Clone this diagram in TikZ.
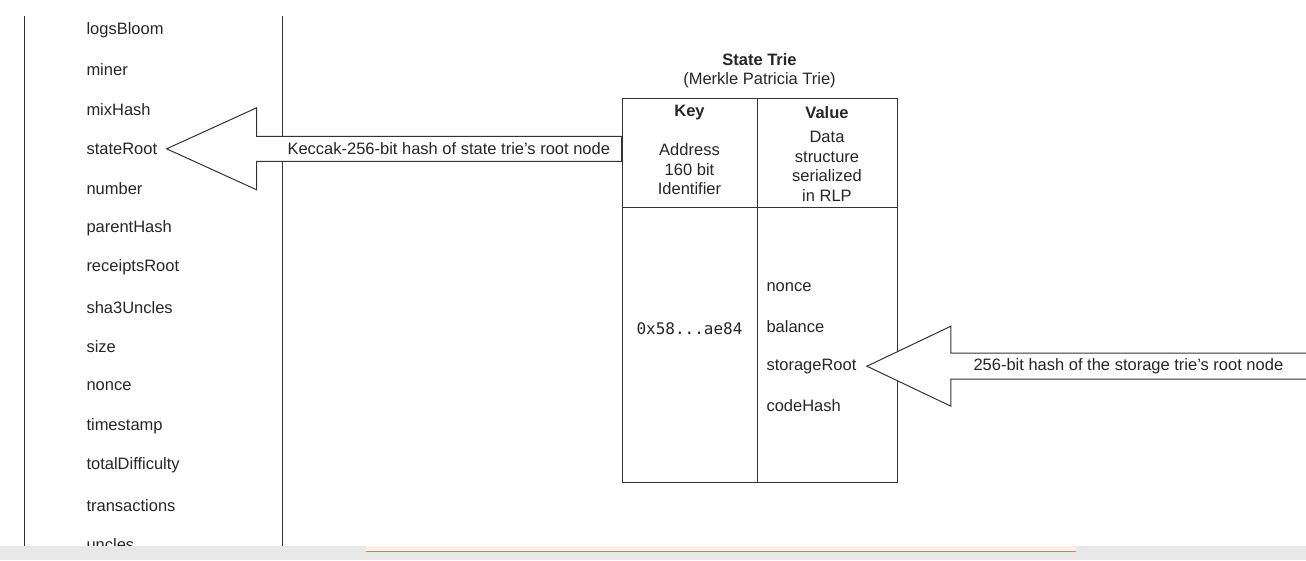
\documentclass[tikz,border=0pt]{standalone}
\usepackage{fontspec}
\setmainfont{Liberation Sans}
\setmonofont{DejaVu Sans Mono}
\usetikzlibrary{calc}

\begin{document}
\begin{tikzpicture}[x=1pt,y=-1pt,line width=1pt,draw=black!80,text=black!85,
  font=\fontsize{16.5}{19.5}\selectfont,
  field/.style={anchor=west,inner sep=0pt},
  cell/.style={align=center,inner sep=0pt},
  hollow/.style={draw,fill=white,line join=miter}]
  \useasboundingbox (0,0) rectangle (1306,560);
  \draw (24,16) -- (24,546);
  \draw (282,16) -- (282,546);
  \foreach \f [count=\i from 0] in {logsBloom,miner,mixHash,stateRoot,number,parentHash,receiptsRoot,sha3Uncles,size,nonce,timestamp,totalDifficulty,transactions,uncles}
  {
    \node[field] (\f) at (86,30+39.6*\i) {\f};
  }
  \node[draw,minimum width=275pt,minimum height=384pt,inner sep=0pt] (trie) at (759.5,290) {};
  \draw (757,98) -- (757,482);
  \draw (622,207) -- (897,207);
  \node[cell,font=\fontsize{16.5}{19.5}\selectfont\bfseries] (trieTitle) at (759.5,60) {State Trie};
  \node[cell] (trieSub) at (759.5,80) {(Merkle Patricia Trie)};
  \node[cell,font=\fontsize{16.5}{19.5}\selectfont\bfseries] (keyHead) at (689.5,113) {Key};
  \node[cell,font=\fontsize{16.5}{19.5}\selectfont\bfseries] (valueHead) at (827,113) {Value};
  \node[cell] (keyDesc) at (689.5,169.5) {Address\\160 bit\\Identifier};
  \node[cell] (valueDesc) at (827,166.5) {Data\\structure\\serialized\\in RLP};
  \node[cell,font=\fontsize{16}{19}\ttfamily] (address) at (689.5,329) {0x58...ae84};
  \foreach \f/\t [count=\i from 0] in {acNonce/nonce,acBalance/balance,storageRoot/storageRoot,codeHash/codeHash}
  {
    \node[field] (\f) at (766,287+39.6*\i) {\t};
  }
  \coordinate (stateTip) at ($(stateRoot.east)+(9,0)$);
  \coordinate (stateTail) at (trie.west |- stateTip);
  \draw[hollow] (stateTip) -- ++(90,-41) -- ++(0,28.5) -- ($(stateTail)+(0,-12.5)$) -- ($(stateTail)+(0,12.5)$) -- ($(stateTip)+(90,12.5)$) -- ($(stateTip)+(90,41)$) -- cycle;
  \node[field] (stateHash) at (287,148.5) {Keccak-256-bit hash of state trie's root node};
  \coordinate (storageTip) at ($(storageRoot.east)+(10,0)$);
  \coordinate (storageTail) at (1312,0 |- storageTip);
  \draw[hollow] (storageTip) -- ++(84,-40) -- ++(0,27) -- ($(storageTail)+(0,-13)$) -- ($(storageTail)+(0,13)$) -- ($(storageTip)+(84,13)$) -- ($(storageTip)+(84,40)$) -- cycle;
  \node[field] (storageHash) at (973,366.5) {256-bit hash of the storage trie's root node};
  \fill[black!9] (0,546) rectangle (1306,560);
  \fill[orange!12] (366,546) rectangle (1076,551);
  \draw[orange!70!brown,line width=1.2pt] (366,551.5) -- (1076,551.5);
\end{tikzpicture}
\end{document}
